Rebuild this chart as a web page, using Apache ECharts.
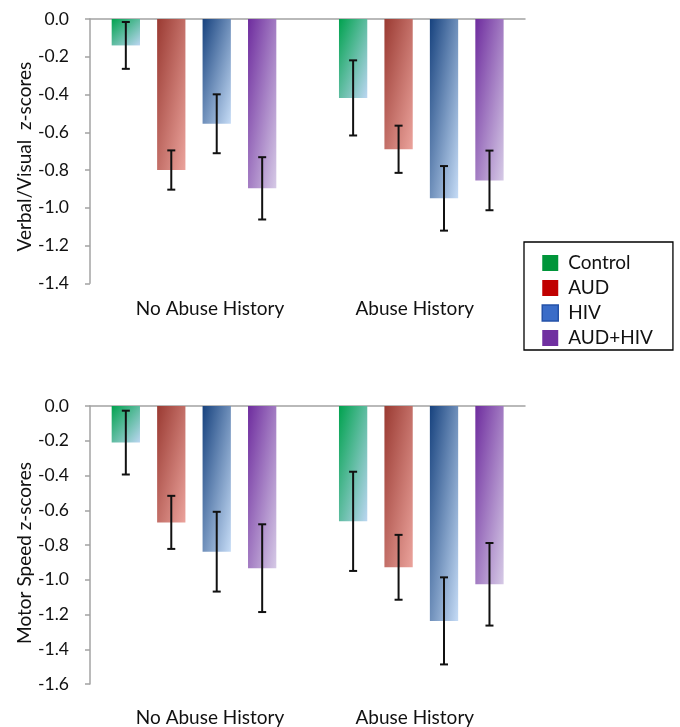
<!DOCTYPE html>
<html><head><meta charset="utf-8">
<script src="https://cdn.jsdelivr.net/npm/echarts@6/dist/echarts.min.js"></script>
<style>html,body{margin:0;padding:0;background:#fff}#c{width:680px;height:727px}</style>
</head><body><div id="c"></div>
<script>
// ---- data ----
const groups = ['No Abuse History', 'Abuse History'];
const seriesNames = ['Control', 'AUD', 'HIV', 'AUD+HIV'];

const verbalControl = [-0.14, -0.418];
const verbalAUD     = [-0.80, -0.69];
const verbalHIV     = [-0.555, -0.95];
const verbalAUDHIV  = [-0.897, -0.855];
const verbalControlErr = [0.124, 0.199];
const verbalAUDErr     = [0.104, 0.125];
const verbalHIVErr     = [0.156, 0.171];
const verbalAUDHIVErr  = [0.165, 0.158];

const motorControl = [-0.211, -0.665];
const motorAUD     = [-0.671, -0.93];
const motorHIV     = [-0.84, -1.239];
const motorAUDHIV  = [-0.935, -1.028];
const motorControlErr = [0.184, 0.286];
const motorAUDErr     = [0.153, 0.187];
const motorHIVErr     = [0.23, 0.251];
const motorAUDHIVErr  = [0.253, 0.238];

const verbalTicks = [-1.4, 0, 0.2];  // min, max, step
const motorTicks  = [-1.6, 0, 0.2];

// ---- style ----
const FONT = 'Lato';
const TXT = '#111';
const AXIS = '#a3a3a3';
const BAR_W = 28.3;
const BAR_GAP = 0.606;
const CAP = 4;
const gradStops = [
  ['#00a24e', '#bcd6f2'],
  ['#9a3a32', '#eba39c'],
  ['#17427e', '#c6dcf6'],
  ['#6e2c9e', '#d6cae6']
];
const legendColors = ['#00953a', '#c00000', '#3a6cc8', '#7030a0'];

const verbalVals = [verbalControl, verbalAUD, verbalHIV, verbalAUDHIV];
const verbalErrs = [verbalControlErr, verbalAUDErr, verbalHIVErr, verbalAUDHIVErr];
const motorVals = [motorControl, motorAUD, motorHIV, motorAUDHIV];
const motorErrs = [motorControlErr, motorAUDErr, motorHIVErr, motorAUDHIVErr];

const gridsCfg = [
  { left: 80.35, width: 454.6, top: 19, height: 264.3 },
  { left: 90, width: 435, top: 19, height: 264.3 },
  { left: 80.35, width: 454.6, top: 406, height: 278 },
  { left: 90, width: 435, top: 406, height: 278 }
];

function grad(i, v, ppu) {
  const s = gradStops[i];
  const h = Math.max(1, Math.abs(v) * ppu), w = BAR_W;
  const d = h * h + w * w;
  return new echarts.graphic.LinearGradient(0, 0, 2 * h * h / d, 2 * w * w / d, [
    { offset: 0, color: s[0] }, { offset: 1, color: s[1] }
  ]);
}

function errRender(params, api) {
  const cat = api.value(0), mean = api.value(1), err = api.value(2), si = api.value(3);
  const step = BAR_W * (1 + BAR_GAP);
  const off = (si - 1.5) * step;
  const c = api.coord([cat, mean]);
  const hi = api.coord([cat, mean + err]);
  const lo = api.coord([cat, mean - err]);
  const x = c[0] + off;
  const style = { stroke: '#111', lineWidth: 2 };
  return { type: 'group', children: [
    { type: 'line', shape: { x1: x, y1: hi[1], x2: x, y2: lo[1] }, style },
    { type: 'line', shape: { x1: x - CAP, y1: hi[1], x2: x + CAP, y2: hi[1] }, style },
    { type: 'line', shape: { x1: x - CAP, y1: lo[1], x2: x + CAP, y2: lo[1] }, style }
  ]};
}

function catLabel(margin) {
  return {
    margin: margin,
    formatter: (v, i) => (i === 0 ? '{a|' + v + '}' : '{b|' + v + '}'),
    rich: {
      a: { fontFamily: FONT, fontSize: 19, color: TXT, lineHeight: 20, padding: [0, 0, 0, 32] },
      b: { fontFamily: FONT, fontSize: 19, color: TXT, lineHeight: 20, padding: [0, 13, 0, 0] }
    }
  };
}

function frameY(gi, ticks, name, namePad) {
  return {
    gridIndex: gi, type: 'value', min: ticks[0], max: ticks[1], interval: ticks[2],
    axisLine: { show: true, lineStyle: { color: AXIS, width: 1.5 } },
    axisTick: { show: true, length: 5, lineStyle: { color: AXIS, width: 1.5 } },
    splitLine: { show: false },
    axisLabel: { margin: 21, fontFamily: FONT, fontSize: 17.5, color: TXT, formatter: v => v.toFixed(1) },
    name: name, nameLocation: 'middle', nameGap: 55.5, nameMoveOverlap: false,
    nameTextStyle: { fontFamily: FONT, fontSize: 19, color: TXT, padding: namePad }
  };
}

function buildOption(ppuV, ppuM) {
  const series = [];
  seriesNames.forEach((n, i) => {
    series.push({
      name: n, type: 'bar', xAxisIndex: 0, yAxisIndex: 0, barWidth: BAR_W, barGap: (BAR_GAP * 100) + '%',
      data: verbalVals[i].map(v => ({ value: v, itemStyle: { color: grad(i, v, ppuV) } }))
    });
  });
  seriesNames.forEach((n, i) => {
    series.push({
      name: n, type: 'bar', xAxisIndex: 2, yAxisIndex: 2, barWidth: BAR_W, barGap: (BAR_GAP * 100) + '%',
      data: motorVals[i].map(v => ({ value: v, itemStyle: { color: grad(i, v, ppuM) } }))
    });
  });
  const vErrData = [], mErrData = [];
  seriesNames.forEach((n, i) => {
    groups.forEach((g, c) => {
      vErrData.push([c, verbalVals[i][c], verbalErrs[i][c], i]);
      mErrData.push([c, motorVals[i][c], motorErrs[i][c], i]);
    });
  });
  series.push({ type: 'custom', xAxisIndex: 0, yAxisIndex: 0, renderItem: errRender, data: vErrData, z: 5 });
  series.push({ type: 'custom', xAxisIndex: 2, yAxisIndex: 2, renderItem: errRender, data: mErrData, z: 5 });

  return {
    animation: false,
    backgroundColor: '#fff',
    grid: gridsCfg,
    xAxis: [
      { gridIndex: 0, type: 'category', data: groups, axisLine: { show: false, onZero: false }, axisTick: { show: false }, axisLabel: catLabel(16) },
      { gridIndex: 1, type: 'category', data: groups, position: 'top', axisLine: { show: true, onZero: false, lineStyle: { color: AXIS, width: 1.5 } }, axisTick: { show: false }, axisLabel: { show: false } },
      { gridIndex: 2, type: 'category', data: groups, axisLine: { show: false, onZero: false }, axisTick: { show: false }, axisLabel: catLabel(24) },
      { gridIndex: 3, type: 'category', data: groups, position: 'top', axisLine: { show: true, onZero: false, lineStyle: { color: AXIS, width: 1.5 } }, axisTick: { show: false }, axisLabel: { show: false } }
    ],
    yAxis: [
      { gridIndex: 0, type: 'value', min: verbalTicks[0], max: verbalTicks[1], show: false },
      frameY(1, verbalTicks, 'Verbal/Visual  z-scores', [0, 11, 0, 0]),
      { gridIndex: 2, type: 'value', min: motorTicks[0], max: motorTicks[1], show: false },
      frameY(3, motorTicks, 'Motor Speed z-scores', [0, 16, 0, 0])
    ],
    legend: {
      orient: 'vertical', left: 524, top: 242,
      padding: [11, 20, 2, 17.5],
      itemWidth: 16, itemHeight: 16, itemGap: 5, icon: 'rect',
      borderColor: '#000', borderWidth: 1.3,
      selectedMode: false,
      textStyle: { fontFamily: FONT, fontSize: 19, color: TXT, lineHeight: 20, padding: [0, 0, 0, 5] },
      data: seriesNames.map((n, i) => ({
        name: n,
        itemStyle: i === 2 ? { color: legendColors[i], borderColor: '#2452a8', borderWidth: 1.5 } : { color: legendColors[i], borderWidth: 0 }
      }))
    },
    series: series
  };
}

const chart = echarts.init(document.getElementById('c'), null, { renderer: 'canvas' });
// pixels per unit from each bar grid's value scale (used for the diagonal gradient)
const ppuV = gridsCfg[0].height / (verbalTicks[1] - verbalTicks[0]);
const ppuM = gridsCfg[2].height / (motorTicks[1] - motorTicks[0]);
chart.setOption(buildOption(ppuV, ppuM));
</script>
</body></html>
